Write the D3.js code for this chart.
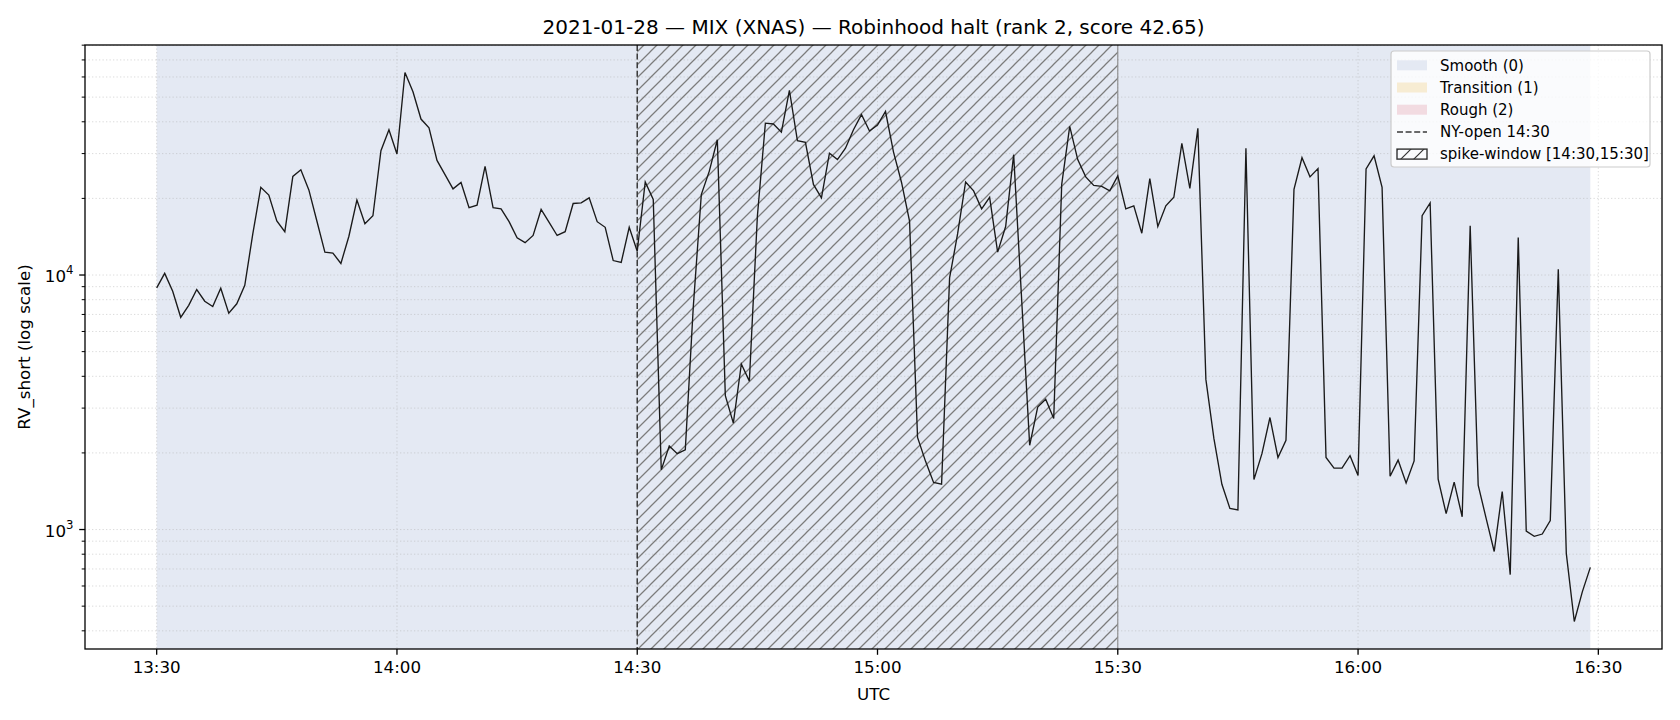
<!DOCTYPE html>
<html><head><meta charset="utf-8">
<script src="https://cdn.jsdelivr.net/npm/d3@7"></script>
<style>body{margin:0;background:#fff;} text{font-family:"DejaVu Sans",sans-serif;fill:#000;}</style>
</head><body><svg id="chart" width="1680" height="720"></svg>
<script>
// ---------------- data ----------------
const sessionDate = "2021-01-28";
const startTime = "13:30";
const rvShort = [
 8900,10150,8630,6820,7600,8770,7890,7520,8870,7080,
 7710,9110,14500,22100,20600,16300,14800,24400,25900,21600,
 16300,12300,12200,11100,14200,19700,15900,17100,30800,37200,
 29900,62500,52500,41000,37900,28200,24800,21800,23100,18400,
 18800,26700,18400,18200,16200,14000,13400,14300,18100,16100,
 14300,14800,19100,19200,20100,16200,15400,11400,11200,15400,
 12400,23200,19800,1716,2130,1987,2056,7500,20700,25600,
 34000,3360,2620,4470,3830,17000,39500,39200,36400,53200,
 33700,33200,22700,20100,30100,28400,31500,37200,42700,36800,
 38800,43900,30400,23100,16300,2300,1853,1531,1506,9740,
 14500,23200,21400,18200,20200,12300,15500,29700,8000,2142,
 3030,3250,2730,22700,38400,28400,24300,22500,22300,21400,
 24500,18200,18700,14600,23900,15500,18700,20200,32900,21900,
 37700,3890,2280,1506,1211,1195,31500,1571,1987,2755,
 1919,2241,21700,28900,24300,26200,1919,1743,1743,1951,
 1630,26100,29400,22100,1619,1874,1524,1860,17100,19200,
 1579,1154,1536,1122,15600,1493,1104,820,1410,665,
 14030,986,940,960,1085,10540,806,435,569,710
];
const xTickLabels = ["13:30","14:00","14:30","15:00","15:30","16:00","16:30"];
const yMajorTicks = [1e3, 1e4];
const regimeNames = ["Smooth (0)", "Transition (1)", "Rough (2)"];
const regimeColors = ["#e4e9f3", "#f7ecd3", "#f2dbe1"];
const regimeSpans = [{start: "13:30", end: "16:29", regime: 0}];
const nyOpen = "14:30";
const spikeWindow = ["14:30", "15:30"];
const titleText = "2021-01-28 — MIX (XNAS) — Robinhood halt (rank 2, score 42.65)";
const xLabel = "UTC";
const yLabel = "RV_short (log scale)";

// ---------------- layout ----------------
const W = 1680, H = 720;
const M = {left: 85, right: 1662, top: 45, bottom: 649};
const parseHM = s => new Date(`${sessionDate}T${s}:00Z`);
const t0 = parseHM(startTime);
const times = rvShort.map((_, i) => d3.utcMinute.offset(t0, i));
const data = rvShort.map((v, i) => ({t: times[i], v}));

const tMin = times[0], tMax = times[times.length - 1];
const tPad = (tMax - tMin) * 0.05;
const x = d3.scaleUtc()
  .domain([new Date(+tMin - tPad), new Date(+tMax + tPad)])
  .range([M.left, M.right]);

const lmin = Math.log10(d3.min(rvShort)), lmax = Math.log10(d3.max(rvShort));
const lpad = (lmax - lmin) * 0.05;
const y = d3.scaleLog()
  .domain([Math.pow(10, lmin - lpad), Math.pow(10, lmax + lpad)])
  .range([M.bottom, M.top]);

const svg = d3.select("#chart");
svg.append("rect").attr("width", W).attr("height", H).attr("fill", "#fff");

const defs = svg.append("defs");
defs.append("clipPath").attr("id", "plotClip").append("rect")
  .attr("x", M.left).attr("y", M.top)
  .attr("width", M.right - M.left).attr("height", M.bottom - M.top);

function hatch(id, color, width, s) {
  const p = defs.append("pattern").attr("id", id)
    .attr("patternUnits", "userSpaceOnUse").attr("width", s).attr("height", s);
  p.append("path").attr("d", `M-1,1 l2,-2 M0,${s} l${s},${-s} M${s-1},${s+1} l2,-2`)
    .attr("stroke", color).attr("stroke-width", width).attr("fill", "none");
}
hatch("hatchPlot", "#7c7c7c", 1.25, 13);
hatch("hatchLegend", "#333", 1.2, 13);

const plot = svg.append("g").attr("clip-path", "url(#plotClip)");

// regime band(s)
plot.selectAll("rect.regime").data(regimeSpans).join("rect")
  .attr("class", "regime")
  .attr("x", d => x(parseHM(d.start)))
  .attr("width", d => x(parseHM(d.end)) - x(parseHM(d.start)))
  .attr("y", M.top).attr("height", M.bottom - M.top)
  .attr("fill", d => regimeColors[d.regime]);

// grid
const [d0, d1] = y.domain();
const minorTicks = [];
for (let e = Math.floor(Math.log10(d0)); e <= Math.ceil(Math.log10(d1)); e++) {
  for (let m = 2; m <= 9; m++) {
    const v = m * Math.pow(10, e);
    if (v >= d0 && v <= d1) minorTicks.push(v);
  }
}
const gridStyle = sel => sel.attr("stroke", "#b0b0b0").attr("stroke-opacity", 0.45)
  .attr("stroke-width", 1).attr("stroke-dasharray", "1.3,2.2");
plot.selectAll("line.ygrid").data(yMajorTicks.concat(minorTicks)).join("line")
  .attr("x1", M.left).attr("x2", M.right)
  .attr("y1", d => y(d)).attr("y2", d => y(d)).call(gridStyle);
plot.selectAll("line.xgrid").data(xTickLabels).join("line")
  .attr("y1", M.top).attr("y2", M.bottom)
  .attr("x1", d => x(parseHM(d))).attr("x2", d => x(parseHM(d))).call(gridStyle);

// spike window hatch
const sx0 = x(parseHM(spikeWindow[0])), sx1 = x(parseHM(spikeWindow[1]));
plot.append("rect").attr("x", sx0).attr("y", M.top)
  .attr("width", sx1 - sx0).attr("height", M.bottom - M.top)
  .attr("fill", "url(#hatchPlot)");
plot.append("line").attr("x1", sx1).attr("x2", sx1).attr("y1", M.top).attr("y2", M.bottom)
  .attr("stroke", "#8a8a8a").attr("stroke-width", 1.1);

// NY open
const nx = x(parseHM(nyOpen));
plot.append("line").attr("x1", nx).attr("x2", nx).attr("y1", M.top).attr("y2", M.bottom)
  .attr("stroke", "#3a3a3a").attr("stroke-width", 1.5).attr("stroke-dasharray", "6,2.6");

// data line
plot.append("path").datum(data)
  .attr("d", d3.line().x(d => x(d.t)).y(d => y(d.v)))
  .attr("fill", "none").attr("stroke", "#1a1a1a").attr("stroke-width", 1.35)
  .attr("stroke-linejoin", "miter");

// axes frame
svg.append("rect").attr("x", M.left).attr("y", M.top)
  .attr("width", M.right - M.left).attr("height", M.bottom - M.top)
  .attr("fill", "none").attr("stroke", "#000").attr("stroke-width", 1.3);

// x ticks
const xt = svg.append("g");
xTickLabels.forEach(lbl => {
  const px = x(parseHM(lbl));
  xt.append("line").attr("x1", px).attr("x2", px).attr("y1", M.bottom).attr("y2", M.bottom + 5.8)
    .attr("stroke", "#000").attr("stroke-width", 1.3);
  xt.append("text").attr("x", px).attr("y", M.bottom + 24).attr("text-anchor", "middle")
    .attr("font-size", 16.7).text(lbl);
});

// y ticks
const yt = svg.append("g");
yMajorTicks.forEach(v => {
  const py = y(v);
  yt.append("line").attr("x1", M.left - 5.8).attr("x2", M.left).attr("y1", py).attr("y2", py)
    .attr("stroke", "#000").attr("stroke-width", 1.3);
  const t = yt.append("text").attr("x", M.left - 11.5).attr("y", py + 7).attr("text-anchor", "end")
    .attr("font-size", 16.7);
  t.append("tspan").text("10");
  t.append("tspan").attr("font-size", 11.7).attr("dy", -8).text(String(Math.round(Math.log10(v))));
});
minorTicks.forEach(v => {
  const py = y(v);
  yt.append("line").attr("x1", M.left - 3.3).attr("x2", M.left).attr("y1", py).attr("y2", py)
    .attr("stroke", "#000").attr("stroke-width", 1);
});

// labels
svg.append("text").attr("x", (M.left + M.right) / 2).attr("y", 34).attr("text-anchor", "middle")
  .attr("font-size", 20).text(titleText);
svg.append("text").attr("x", (M.left + M.right) / 2).attr("y", 700).attr("text-anchor", "middle")
  .attr("font-size", 16.7).text(xLabel);
svg.append("text").attr("transform", `translate(30,${(M.top + M.bottom) / 2}) rotate(-90)`)
  .attr("text-anchor", "middle").attr("font-size", 16.7).text(yLabel);

// legend
const lg = svg.append("g");
const LX = 1391, LY = 51, LW = 259, LH = 116;
lg.append("rect").attr("x", LX).attr("y", LY).attr("width", LW).attr("height", LH)
  .attr("rx", 3).attr("fill", "#fff").attr("fill-opacity", 0.8)
  .attr("stroke", "#cccccc").attr("stroke-width", 1.2);
const rowY = i => 65.3 + i * 22.2;
const hx0 = 1397, hx1 = 1427;
regimeNames.forEach((name, i) => {
  lg.append("rect").attr("x", hx0).attr("y", rowY(i) - 5).attr("width", hx1 - hx0).attr("height", 10)
    .attr("fill", regimeColors[i]);
});
lg.append("line").attr("x1", hx0).attr("x2", hx1).attr("y1", rowY(3)).attr("y2", rowY(3))
  .attr("stroke", "#3a3a3a").attr("stroke-width", 1.5).attr("stroke-dasharray", "6,2.6");
lg.append("rect").attr("x", hx0).attr("y", rowY(4) - 5).attr("width", hx1 - hx0).attr("height", 10)
  .attr("fill", "url(#hatchLegend)").attr("stroke", "#333").attr("stroke-width", 1.4);
const legendLabels = regimeNames.concat([`NY-open ${nyOpen}`, `spike-window [${spikeWindow[0]},${spikeWindow[1]}]`]);
legendLabels.forEach((lbl, i) => {
  lg.append("text").attr("x", 1440).attr("y", rowY(i) + 5.3).attr("font-size", 15).text(lbl);
});
</script></body></html>
